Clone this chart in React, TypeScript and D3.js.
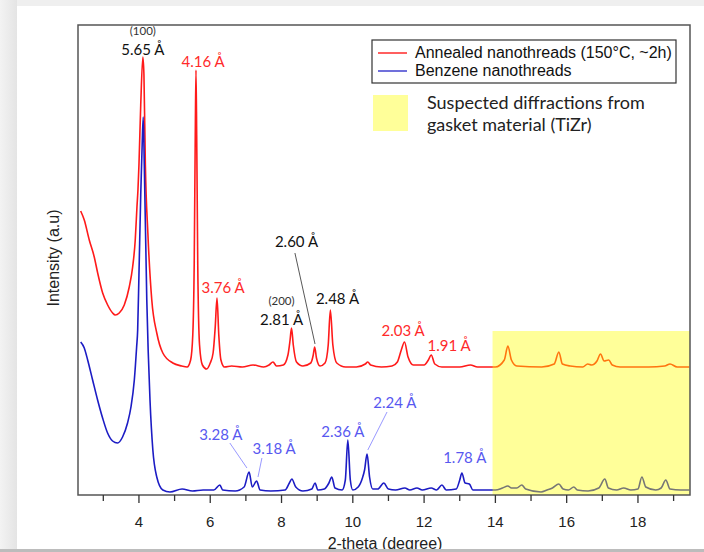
import React from 'react';
import * as d3 from 'd3';

// 2-theta (degree) vs intensity (a.u.)
const annealed: [number, number][] = [
  [2.365, 284], [2.466, 275], [2.606, 255], [2.746, 238], [2.842, 222], [2.982, 202],
  [3.122, 190], [3.262, 182], [3.335, 180], [3.447, 182], [3.588, 190], [3.728, 208],
  [3.823, 228], [3.896, 255], [3.944, 288], [3.972, 305], [4.0, 330], [4.05, 390],
  [4.11, 438], [4.14, 420], [4.18, 330], [4.25, 262], [4.36, 195],
  [4.5, 162], [4.67, 142], [4.95, 132], [5.2, 129], [5.35, 128], [5.45, 135], [5.51, 160],
  [5.55, 230], [5.58, 360], [5.6, 425], [5.62, 360], [5.65, 230], [5.7, 150], [5.78, 130],
  [5.9, 126], [6.0, 132], [6.08, 142], [6.14, 168], [6.19, 197], [6.24, 160], [6.3, 135],
  [6.4, 128], [6.6, 129], [6.9, 128], [7.2, 130], [7.5, 128], [7.65, 130], [7.76, 133],
  [7.86, 129], [8.05, 130], [8.18, 140], [8.24, 155], [8.28, 167], [8.33, 150], [8.42, 133],
  [8.6, 129], [8.82, 132], [8.89, 140], [8.93, 148], [8.98, 137], [9.08, 129], [9.22, 132],
  [9.31, 150], [9.37, 185], [9.44, 150], [9.55, 132], [9.8, 128], [10.1, 128], [10.35, 131],
  [10.42, 133], [10.5, 130], [10.8, 128], [11.1, 129], [11.25, 133], [11.36, 145],
  [11.45, 153], [11.55, 138], [11.7, 130], [12.0, 130], [12.12, 135], [12.2, 140],
  [12.3, 131], [12.5, 128], [13.0, 128], [13.3, 130], [13.5, 128], [14.0, 128], [14.25, 135],
  [14.35, 149], [14.45, 135], [14.6, 129], [15.3, 128], [15.65, 131], [15.78, 143],
  [15.88, 131], [16.1, 129], [16.45, 128], [16.59, 131], [16.7, 130], [16.85, 134],
  [16.95, 141], [17.05, 134], [17.18, 135], [17.28, 130], [17.5, 128], [18.3, 128],
  [18.75, 129], [18.9, 131], [19.1, 128], [19.44, 128],
];

const benzene: [number, number][] = [
  [2.365, 153], [2.466, 147], [2.561, 135], [2.7, 115], [2.84, 95], [2.98, 77], [3.12, 62],
  [3.26, 54], [3.4, 52], [3.54, 58], [3.68, 72], [3.776, 88], [3.87, 115], [3.935, 148],
  [3.964, 165], [4.0, 220], [4.05, 300], [4.09, 350],
  [4.12, 378], [4.15, 330], [4.22, 195], [4.31, 95], [4.39, 45], [4.5, 18], [4.67, 5],
  [4.87, 3], [5.21, 6], [5.5, 4], [5.8, 5], [6.1, 5], [6.27, 10], [6.35, 5], [6.7, 4],
  [6.95, 8], [7.09, 23], [7.18, 8], [7.3, 14], [7.4, 5], [7.7, 4], [8.1, 5], [8.22, 12],
  [8.29, 16], [8.4, 8], [8.6, 4], [8.85, 6], [8.94, 12], [9.02, 5], [9.2, 6], [9.33, 12],
  [9.41, 18], [9.5, 7], [9.7, 5], [9.79, 15], [9.86, 55], [9.93, 15], [10.0, 5], [10.15, 8],
  [10.27, 17], [10.33, 25], [10.4, 41], [10.47, 18], [10.56, 6], [10.7, 6], [10.87, 12],
  [11.0, 6], [11.2, 5], [11.46, 7], [11.6, 5], [11.8, 7], [11.95, 5], [12.2, 7], [12.35, 5],
  [12.5, 10], [12.62, 5], [12.9, 6], [13.0, 15], [13.06, 22], [13.15, 12], [13.27, 11],
  [13.37, 5], [13.6, 5], [14.0, 5], [14.2, 7], [14.35, 9], [14.45, 7], [14.6, 7], [14.74, 10],
  [14.85, 6], [15.28, 3], [15.45, 5], [15.6, 7], [15.78, 11], [15.9, 6], [16.05, 5],
  [16.2, 8], [16.3, 5], [16.6, 4], [16.9, 7], [17.07, 16], [17.17, 7], [17.4, 5], [17.6, 7],
  [17.8, 5], [18.0, 6], [18.11, 18], [18.22, 8], [18.5, 5], [18.65, 7], [18.78, 15],
  [18.9, 6], [19.2, 5], [19.44, 5],
];

const majorTicks = [4, 6, 8, 10, 12, 14, 16, 18];
const minorTicks = [3, 5, 7, 9, 11, 13, 15, 17, 19];
const gasketRange = [13.92, 19.46];
const gasketTop = 164;

const seriesNames = ['Annealed nanothreads (150°C, ~2h)', 'Benzene nanothreads'];
const gasketLabel = ['Suspected diffractions from', 'gasket material (TiZr)'];

type Note = { text: string; x: number; y: number; kind: 'black' | 'red' | 'blue' | 'hkl' };
const notes: Note[] = [
  { text: '(100)', x: 4.11, y: 460, kind: 'hkl' },
  { text: '5.65 Å', x: 4.11, y: 440, kind: 'black' },
  { text: '4.16 Å', x: 5.8, y: 428, kind: 'red' },
  { text: '3.76 Å', x: 6.36, y: 202, kind: 'red' },
  { text: '(200)', x: 8.0, y: 190, kind: 'hkl' },
  { text: '2.81 Å', x: 8.0, y: 170, kind: 'black' },
  { text: '2.60 Å', x: 8.42, y: 248, kind: 'black' },
  { text: '2.48 Å', x: 9.57, y: 191, kind: 'black' },
  { text: '2.03 Å', x: 11.41, y: 159, kind: 'red' },
  { text: '1.91 Å', x: 12.7, y: 144, kind: 'red' },
  { text: '3.28 Å', x: 6.3, y: 55, kind: 'blue' },
  { text: '3.18 Å', x: 7.79, y: 41, kind: 'blue' },
  { text: '2.36 Å', x: 9.72, y: 58, kind: 'blue' },
  { text: '2.24 Å', x: 11.18, y: 87, kind: 'blue' },
  { text: '1.78 Å', x: 13.14, y: 32, kind: 'blue' },
];

// leader lines: [x1, y1, x2, y2, kind]
const leaders: [number, number, number, number, 'black' | 'blue'][] = [
  [8.376, 242, 8.94, 151, 'black'],
  [6.55, 52, 7.03, 27, 'blue'],
  [7.45, 37, 7.34, 18, 'blue'],
  [10.96, 83, 10.42, 45, 'blue'],
];

const RED = '#ff1a1a';
const BLUE = '#1c1cc4';
const noteColor = { black: '#111', red: '#ff2a2a', blue: '#5858f0', hkl: '#333' };

export default function App() {
  const plot = { left: 78, top: 25, right: 690, bottom: 495 };
  const x = d3.scaleLinear().domain([2.29, 19.46]).range([plot.left, plot.right]);
  const y = d3.scaleLinear().domain([0, 470]).range([plot.bottom, plot.top]);
  const path = d3.line<[number, number]>().x(d => x(d[0])).y(d => y(d[1])).curve(d3.curveMonotoneX);
  const sans = 'Liberation Sans, Arial, sans-serif';
  const cal = 'Lato, sans-serif';

  return (
    <div style={{ position: 'fixed', left: 0, top: 0 }}>
      <svg width={704} height={552} style={{ display: 'block' }}>
        <defs>
          <linearGradient id="shadow" x1="0" x2="1" y1="0" y2="0">
            <stop offset="0" stopColor="#f3f3f3" />
            <stop offset="1" stopColor="#e4e4e4" />
          </linearGradient>
          <clipPath id="clip">
            <rect x={plot.left} y={plot.top} width={plot.right - plot.left} height={plot.bottom - plot.top} />
          </clipPath>
        </defs>
        <rect x={0} y={0} width={704} height={552} fill="#efefef" />
        <rect x={0} y={0} width={17} height={552} fill="url(#shadow)" />
        <rect x={17} y={6} width={687} height={543} fill="#fff" />

        <g clipPath="url(#clip)">
          <path d={path(annealed) || ''} fill="none" stroke={RED} strokeWidth={1.6} />
          <path d={path(benzene) || ''} fill="none" stroke={BLUE} strokeWidth={1.6} />
        </g>

        <rect
          x={x(gasketRange[0])}
          y={y(gasketTop)}
          width={x(gasketRange[1]) - x(gasketRange[0])}
          height={y(0) - y(gasketTop)}
          fill="#ffff00"
          fillOpacity={0.4}
        />

        {leaders.map((l, i) => (
          <line key={i} x1={x(l[0])} y1={y(l[1])} x2={x(l[2])} y2={y(l[3])}
            stroke={l[4] === 'black' ? '#444' : '#8c8cff'} strokeWidth={0.9} />
        ))}
        {notes.map((n, i) => (
          <text key={i} x={x(n.x)} y={y(n.y)} textAnchor="middle" fontFamily={cal}
            fontSize={n.kind === 'hkl' ? 11.5 : 15} fill={noteColor[n.kind]}>{n.text}</text>
        ))}

        <rect x={plot.left} y={plot.top} width={plot.right - plot.left} height={plot.bottom - plot.top}
          fill="none" stroke="#555" strokeWidth={1.5} />
        {majorTicks.map(t => (
          <g key={t}>
            <line x1={x(t)} x2={x(t)} y1={plot.bottom} y2={plot.bottom + 8} stroke="#333" strokeWidth={1.3} />
            <text x={x(t)} y={527} textAnchor="middle" fontFamily={sans} fontSize={15} fill="#222">{t}</text>
          </g>
        ))}
        {minorTicks.map(t => (
          <line key={t} x1={x(t)} x2={x(t)} y1={plot.bottom} y2={plot.bottom + 6} stroke="#333" strokeWidth={1.3} />
        ))}

        <text transform="translate(58.5,258) rotate(-90)" textAnchor="middle" fontFamily={sans} fontSize={16} fill="#222">Intensity (a.u)</text>
        <text x={385} y={549} textAnchor="middle" fontFamily={sans} fontSize={16} fill="#222">2-theta (degree)</text>

        <rect x={372} y={40} width={304} height={43} fill="#fff" stroke="#333" strokeWidth={1.2} />
        <line x1={378} x2={407} y1={53} y2={53} stroke={RED} strokeWidth={1.4} />
        <line x1={378} x2={407} y1={71} y2={71} stroke="#3333cc" strokeWidth={1.4} />
        <text x={415} y={58} fontFamily={sans} fontSize={16} fill="#111">{seriesNames[0]}</text>
        <text x={415} y={76} fontFamily={sans} fontSize={16} fill="#111">{seriesNames[1]}</text>

        <rect x={373} y={95} width={35} height={36} fill="#ffff00" fillOpacity={0.4} />
        <text x={427} y={109} fontFamily={cal} fontSize={18} fill="#222">{gasketLabel[0]}</text>
        <text x={427} y={131} fontFamily={cal} fontSize={18} fill="#222">{gasketLabel[1]}</text>

        <rect x={0} y={549} width={704} height={3} fill="#bcbcbc" />
      </svg>
    </div>
  );
}
